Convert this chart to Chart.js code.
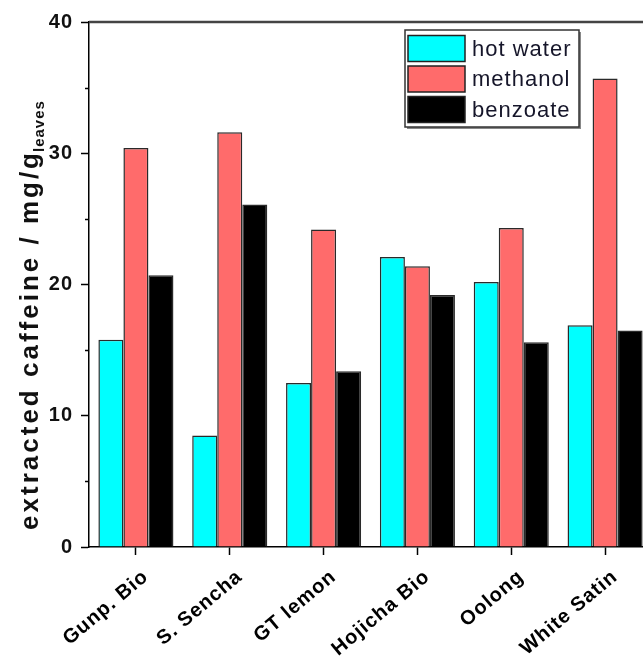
<!DOCTYPE html>
<html>
<head>
<meta charset="utf-8">
<script src="https://cdn.jsdelivr.net/npm/chart.js@4.4.1/dist/chart.umd.min.js"></script>
<style>
  html, body { margin: 0; padding: 0; background: #fff; overflow: hidden; }
  #wrap { width: 700px; height: 661px; position: relative; }
</style>
</head>
<body>
<div id="wrap"><canvas id="caffeineChart"></canvas></div>
<script>
const teas = ["Gunp. Bio", "S. Sencha", "GT lemon", "Hojicha Bio", "Oolong", "White Satin"];
const hotWater = [15.8, 8.5, 12.5, 22.1, 20.2, 16.9];
const methanol = [30.4, 31.6, 24.2, 21.4, 24.3, 35.7];
const benzoate = [20.7, 26.1, 13.4, 19.2, 15.6, 16.5];
const yTicks = [0, 10, 20, 30, 40];
const yMinor = [5, 15, 25, 35];

const FONT = 'Arial, "Liberation Sans", sans-serif';

// frame, minor ticks, y title and boxed legend
const extras = {
  id: "extras",
  beforeDraw(chart) {
    chart.ctx.letterSpacing = "1px";
  },
  afterDraw(chart) {
    const { ctx, chartArea: a, scales } = chart;
    ctx.save();

    // top + right frame
    ctx.strokeStyle = "#444";
    ctx.lineWidth = 2.5;
    ctx.beginPath();
    ctx.moveTo(a.left, a.top);
    ctx.lineTo(a.right, a.top);
    ctx.lineTo(a.right, a.bottom);
    ctx.stroke();

    // minor y ticks
    ctx.strokeStyle = "#000";
    ctx.lineWidth = 1.5;
    yMinor.forEach((v) => {
      const y = Math.round(scales.y.getPixelForValue(v)) + 0.5;
      ctx.beginPath();
      ctx.moveTo(a.left - 4, y);
      ctx.lineTo(a.left, y);
      ctx.stroke();
    });

    // y axis title with subscript
    const main = "extracted caffeine / mg/g";
    const sub = "leaves";
    ctx.fillStyle = "#111";
    ctx.letterSpacing = "3px";
    ctx.font = `bold 26px ${FONT}`;
    const wMain = ctx.measureText(main).width;
    ctx.letterSpacing = "1px";
    ctx.font = `bold 15px ${FONT}`;
    const wSub = ctx.measureText(sub).width;
    ctx.translate(38, 314);
    ctx.rotate(-Math.PI / 2);
    ctx.textBaseline = "alphabetic";
    ctx.textAlign = "left";
    const x0 = -(wMain + wSub) / 2;
    ctx.letterSpacing = "3px";
    ctx.font = `bold 26px ${FONT}`;
    ctx.fillText(main, x0, 0);
    ctx.letterSpacing = "1px";
    ctx.font = `bold 15px ${FONT}`;
    ctx.fillText(sub, x0 + wMain - 2, 6);
    ctx.setTransform(1, 0, 0, 1, 0, 0);

    // legend box
    const bx = 405, by = 30, bw = 174, bh = 97;
    ctx.fillStyle = "#888";
    ctx.fillRect(bx + 2, by + 2, bw, bh);
    ctx.fillStyle = "#fff";
    ctx.fillRect(bx, by, bw, bh);
    ctx.strokeStyle = "#333";
    ctx.lineWidth = 1.5;
    ctx.strokeRect(bx, by, bw, bh);

    ctx.letterSpacing = "1px";
    ctx.font = `22px ${FONT}`;
    ctx.textBaseline = "middle";
    chart.data.datasets.forEach((ds, i) => {
      const sy = by + 5.5 + i * 30.5;
      ctx.fillStyle = ds.backgroundColor;
      ctx.fillRect(408, sy, 57, 26);
      ctx.strokeStyle = "#222";
      ctx.lineWidth = 1.5;
      ctx.strokeRect(408, sy, 57, 26);
      ctx.fillStyle = "#16162a";
      ctx.fillText(ds.label, 472, sy + 14);
    });

    ctx.restore();
  },
};

const ctx = document.getElementById("caffeineChart").getContext("2d");
new Chart(ctx, {
  type: "bar",
  data: {
    labels: teas,
    datasets: [
      { label: "hot water", data: hotWater, backgroundColor: "#00ffff" },
      { label: "methanol", data: methanol, backgroundColor: "#ff6b6b" },
      { label: "benzoate", data: benzoate, backgroundColor: "#000000" },
    ].map((d) => ({ ...d, borderColor: "#2a2a2a", borderWidth: 1.5, borderSkipped: "bottom" })),
  },
  options: {
    responsive: true,
    maintainAspectRatio: false,
    animation: false,
    layout: { padding: { top: 22, right: 48, left: 0, bottom: 0 } },
    datasets: { bar: { categoryPercentage: 0.8, barPercentage: 1.0 } },
    plugins: { legend: { display: false }, tooltip: { enabled: false } },
    scales: {
      x: {
        afterFit: (s) => { s.height = 114; },
        border: { display: true, color: "#000", width: 1.5 },
        grid: { display: true, offset: false, drawOnChartArea: false, tickLength: 8, tickColor: "#000", tickWidth: 1.5 },
        ticks: {
          color: "#000",
          font: { family: FONT, size: 20, weight: "bold" },
          minRotation: 40,
          maxRotation: 40,
          padding: 10,
          labelOffset: 10,
        },
      },
      y: {
        min: 0,
        max: 40,
        afterFit: (s) => { s.width = 89; },
        afterBuildTicks: (s) => { s.ticks = yTicks.map((v) => ({ value: v })); },
        border: { display: true, color: "#000", width: 1.5 },
        grid: { display: true, drawOnChartArea: false, tickLength: 8, tickColor: "#000", tickWidth: 1.5 },
        ticks: {
          color: "#111",
          font: { family: FONT, size: 20, weight: "bold" },
          padding: 8,
        },
      },
    },
  },
  plugins: [extras],
});
</script>
</body>
</html>
